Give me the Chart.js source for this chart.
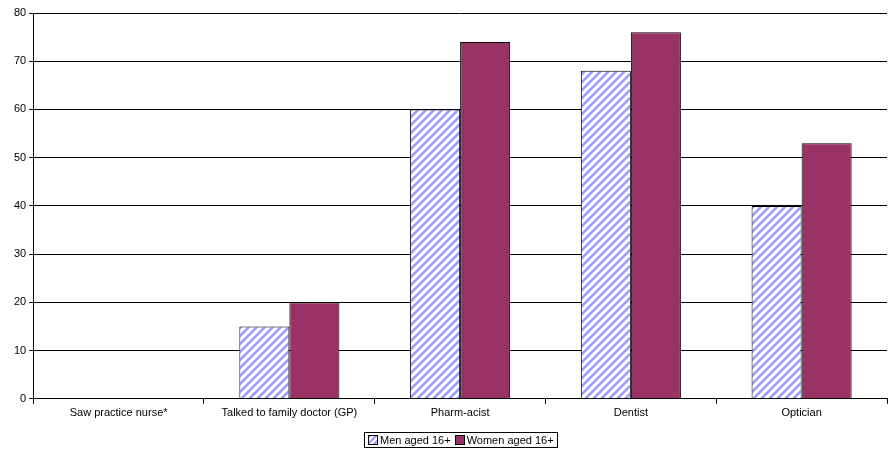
<!DOCTYPE html>
<html><head><meta charset="utf-8">
<script src="https://cdn.jsdelivr.net/npm/chart.js@4"></script>
<style>
body{margin:0;background:#fff;font-family:"Liberation Sans",Arial,sans-serif}
#wrap{position:relative;width:888px;height:458px}
#legend{position:absolute;left:364px;top:432px;border:1px solid #000;padding:1px 3px;font-size:11px;display:flex;gap:4px;align-items:center;white-space:nowrap}
.sw{display:inline-block;width:8px;height:8px;border:1px solid #000;margin-right:2px;vertical-align:-1px}
</style></head>
<body>
<div id="wrap"><canvas id="c" width="888" height="458"></canvas>
<div id="legend"><span><span class="sw" id="sw1"></span>Men aged 16+</span><span><span class="sw" style="background:#993366"></span>Women aged 16+</span></div>
</div>
<script>
const categories = ['Saw practice nurse*', 'Talked to family doctor (GP)', 'Pharm-acist', 'Dentist', 'Optician'];
const menValues = [0, 15, 60, 68, 40];
const womenValues = [0, 20, 74, 76, 53];

function hatch(){
    const p = document.createElement('canvas');
    p.width = 8; p.height = 8;
    const g = p.getContext('2d');
    g.fillStyle = '#fff'; g.fillRect(0,0,8,8);
    g.strokeStyle = '#9999ff'; g.lineWidth = 2.5;
    g.beginPath();
    g.moveTo(-2,10); g.lineTo(10,-2);
    g.moveTo(-2,2); g.lineTo(2,-2);
    g.moveTo(6,10); g.lineTo(10,6);
    g.stroke();
    return p;
}
const ctx = document.getElementById('c').getContext('2d');
const pat = ctx.createPattern(hatch(), 'repeat');
document.getElementById('sw1').style.background = 'repeating-linear-gradient(135deg,#9999ff 0 2px,#fff 2px 4px)';

new Chart(ctx, {
    type: 'bar',
    data: {
        labels: categories,
        datasets: [
            { label: 'Men aged 16+', data: menValues, backgroundColor: pat, borderColor: '#000', borderWidth: 1 },
            { label: 'Women aged 16+', data: womenValues, backgroundColor: '#993366', borderColor: '#000', borderWidth: 1 }
        ]
    },
    options: {
        responsive: false,
        animation: false,
        layout: { padding: { left: 11, right: 1, top: 13, bottom: 35 } },
        datasets: { bar: { categoryPercentage: 0.586, barPercentage: 1 } },
        scales: {
            x: {
                grid: { offset: true, drawOnChartArea: false, color: '#000', tickLength: 5 },
                border: { color: '#000' },
                ticks: { color: '#000', font: { size: 11, family: 'Liberation Sans' }, maxRotation: 0 }
            },
            y: {
                min: 0, max: 80,
                ticks: { stepSize: 10, color: '#000', font: { size: 11, family: 'Liberation Sans' } },
                grid: { color: '#000', tickLength: 4 },
                border: { color: '#000' }
            }
        },
        plugins: { legend: { display: false }, tooltip: { enabled: false } }
    }
});
</script>
</body></html>
